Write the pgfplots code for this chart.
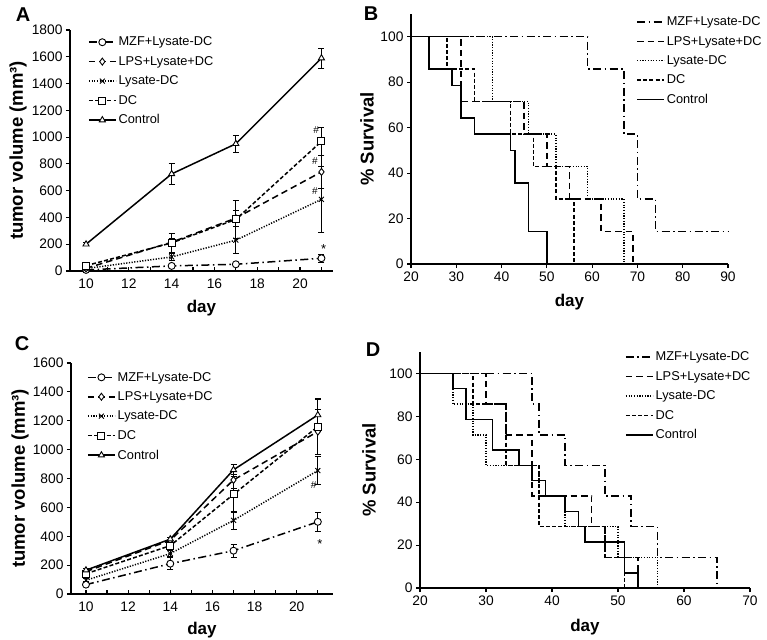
\documentclass[border=0pt]{standalone}
\usepackage{fontspec}
\setmainfont{Liberation Sans}
\usepackage{pgfplots}
\pgfplotsset{compat=1.18}
\tikzset{
  mzf/.style={line width=1.5bp, dash pattern=on 8bp off 3.5bp on 1.5bp off 3.5bp},
  lps/.style={line width=1.5bp, dash pattern=on 6.5bp off 4bp},
  lys/.style={line width=1.5bp, dash pattern=on 1.2bp off 1.5bp},
  dcs/.style={line width=1.5bp, dash pattern=on 4bp off 2.2bp},
  ctl/.style={line width=1.5bp, solid},
}
\pgfplotsset{
  myaxis/.style={
    scale only axis, anchor=south west, clip=false,
    axis x line*=bottom, axis y line*=left,
    axis line style={line width=1.6bp, -},
    tick align=outside,
    major tick length=4bp, minor tick length=4bp,
    tick style={black, line width=1.1bp},
    tick label style={font=\fontsize{13.8bp}{15bp}\selectfont},
    /pgf/number format/assume math mode=true,
    /pgf/number format/1000 sep={},
    every axis x label/.style={at={(axis description cs:0.5,0)}, anchor=center, font=\bfseries\fontsize{17bp}{19bp}\selectfont},
    every axis y label/.style={at={(axis description cs:0,0.5)}, rotate=90, anchor=center, font=\bfseries\fontsize{18.5bp}{20bp}\selectfont},
    legend cell align=left,
    legend style={draw=none, fill=none, inner sep=0pt, anchor=north west,
      font=\fontsize{12.8bp}{14bp}\selectfont, row sep=5bp,
      /tikz/every even column/.append style={column sep=9bp}},
    legend image code/.code={\draw[mark repeat=2,mark phase=2,##1] plot coordinates {(0bp,0bp) (13.5bp,0bp) (27bp,0bp)};},
    every axis plot/.append style={mark options={solid, fill=white, line width=0.9bp}, mark size=3.5bp},
  },
  eb/.style={error bars/.cd, y dir=both, y explicit,
    error bar style={solid, line width=0.9bp},
    error mark options={rotate=90, mark size=3bp, line width=0.9bp, solid}},
}
\begin{document}
\begin{tikzpicture}
\useasboundingbox (0,0) rectangle (767bp,640bp);

% ---------------- Panel A ----------------
\begin{axis}[myaxis, at={(70bp,369bp)}, width=263bp, height=241bp,
  xmin=9.25, xmax=21.54, ymin=0, ymax=1800,
  xtick={10,12,...,20}, minor xtick={11,13,...,21}, ytick={0,200,...,1800},
  xtick style={yshift=4bp},
  xlabel={day}, ylabel={tumor volume (mm³)},
  x label style={yshift=-37bp}, y label style={yshift=52bp},
  legend style={at={(0.068,0.98)}}]
\addplot[mzf, mark=*, eb] coordinates {(10,8) +- (0,5) (14,38) +- (0,12) (17,50) +- (0,10) (21,95) +- (0,28)};
\addlegendentry{MZF+Lysate-DC}
\addplot[lps, mark=diamond*, eb] coordinates {(10,20) +- (0,6) (14,215) +- (0,30) (17,395) +- (0,60) (21,740) +- (0,120)};
\addlegendentry{LPS+Lysate+DC}
\addplot[lys, mark=x, eb] coordinates {(10,18) +- (0,5) (14,105) +- (0,25) (17,230) +- (0,100) (21,535) +- (0,245)};
\addlegendentry{Lysate-DC}
\addplot[dcs, mark=square*, eb] coordinates {(10,40) +- (0,10) (14,210) +- (0,70) (17,385) +- (0,140) (21,968) +- (0,105)};
\addlegendentry{DC}
\addplot[ctl, mark=triangle*, eb] coordinates {(10,200) +- (0,10) (14,725) +- (0,78) (17,950) +- (0,62) (21,1590) +- (0,75)};
\addlegendentry{Control}
\node[font=\fontsize{10bp}{11bp}\selectfont] at (axis cs:20.75,1050) {\#};
\node[font=\fontsize{10bp}{11bp}\selectfont] at (axis cs:20.7,820) {\#};
\node[font=\fontsize{10bp}{11bp}\selectfont] at (axis cs:20.7,600) {\#};
\node[font=\fontsize{13bp}{14bp}\selectfont] at (axis cs:21.1,165) {*};
\end{axis}

% ---------------- Panel B ----------------
\begin{axis}[myaxis, at={(411bp,376bp)}, width=317bp, height=250bp,
  xmin=20, xmax=90, ymin=0, ymax=110,
  xtick={20,30,...,90}, ytick={0,20,...,100},
  xlabel={day}, ylabel={\% Survival},
  x label style={yshift=-38bp}, y label style={yshift=44bp},
  legend style={at={(0.71,0.998)}}]
\addplot[mzf, const plot] coordinates {(20,100) (59,85.7) (67,57.1) (70,28.6) (74,14.3) (90,14.3)};
\addlegendentry{MZF+Lysate-DC}
\addplot[lps, const plot] coordinates {(20,100) (31,71.4) (45,57.1) (50,42.9) (55,28.6) (62,14.3) (69,0)};
\addlegendentry{LPS+Lysate+DC}
\addplot[lys, const plot] coordinates {(20,100) (38,71.4) (46,57.1) (52,42.9) (59,28.6) (67,0)};
\addlegendentry{Lysate-DC}
\addplot[dcs, const plot] coordinates {(20,100) (28,85.7) (34,71.4) (42,57.1) (47,42.9) (52,28.6) (56,0)};
\addlegendentry{DC}
\addplot[ctl, const plot] coordinates {(20,100) (24,85.7) (29,78.6) (31,64.3) (34,57.1) (42,50) (43,35.7) (46,14.3) (50,0)};
\addlegendentry{Control}
\end{axis}

% ---------------- Panel C ----------------
\begin{axis}[myaxis, at={(71bp,46bp)}, width=262bp, height=231bp,
  xmin=9.29, xmax=21.72, ymin=0, ymax=1600,
  xtick={10,12,...,20}, minor xtick={11,13,...,21}, ytick={0,200,...,1600},
  xtick style={yshift=4bp},
  xlabel={day}, ylabel={tumor volume (mm³)},
  x label style={yshift=-36bp}, y label style={yshift=51bp},
  legend style={at={(0.061,0.97)}}]
\addplot[mzf, mark=*, eb] coordinates {(10,65) +- (0,10) (14,210) +- (0,40) (17,300) +- (0,45) (21,500) +- (0,65)};
\addlegendentry{MZF+Lysate-DC}
\addplot[lps, mark=diamond*, eb] coordinates {(10,155) +- (0,10) (14,372) +- (0,20) (17,790) +- (0,60) (21,1125) +- (0,155)};
\addlegendentry{LPS+Lysate+DC}
\addplot[lys, mark=x, eb] coordinates {(10,95) +- (0,10) (14,280) +- (0,20) (17,510) +- (0,65) (21,855) +- (0,95)};
\addlegendentry{Lysate-DC}
\addplot[dcs, mark=square*, eb] coordinates {(10,140) +- (0,10) (14,335) +- (0,20) (17,690) +- (0,125) (21,1160) +- (0,190)};
\addlegendentry{DC}
\addplot[ctl, mark=triangle*, eb] coordinates {(10,165) +- (0,10) (14,380) +- (0,15) (17,860) +- (0,35) (21,1240) +- (0,115)};
\addlegendentry{Control}
\node[font=\fontsize{10bp}{11bp}\selectfont] at (axis cs:20.8,754) {\#};
\node[font=\fontsize{13bp}{14bp}\selectfont] at (axis cs:21.1,345) {*};
\end{axis}

% ---------------- Panel D ----------------
\begin{axis}[myaxis, at={(420bp,52bp)}, width=330bp, height=236bp,
  xmin=20, xmax=70, ymin=0, ymax=110,
  xtick={20,30,...,70}, ytick={0,20,...,100},
  xlabel={day}, ylabel={\% Survival},
  x label style={yshift=-39bp}, y label style={yshift=51bp},
  legend style={at={(0.621,1.01)}}]
\addplot[mzf, const plot] coordinates {(20,100) (37,85.7) (38,71.4) (42,57.1) (48,42.9) (52,28.6) (56,14.3) (65,0)};
\addlegendentry{MZF+Lysate-DC}
\addplot[lps, const plot] coordinates {(20,100) (30,85.7) (33,71.4) (37,42.9) (46,28.6) (48,14.3) (53,0)};
\addlegendentry{LPS+Lysate+DC}
\addplot[lys, const plot] coordinates {(20,100) (25,85.7) (28,71.4) (30,57.1) (38,42.9) (42,28.6) (50,14.3) (56,0)};
\addlegendentry{Lysate-DC}
\addplot[dcs, const plot] coordinates {(20,100) (28,85.7) (33,57.1) (38,28.6) (48,14.3) (51,0)};
\addlegendentry{DC}
\addplot[ctl, const plot] coordinates {(20,100) (25,92.9) (27,78.6) (31,64.3) (35,57.1) (37,50) (39,42.9) (42,35.7) (44,28.6) (45,21.4) (51,7.1) (53,0)};
\addlegendentry{Control}
\end{axis}

% panel letters
\node[font=\bfseries\fontsize{20bp}{22bp}\selectfont] at (23bp,625bp) {A};
\node[font=\bfseries\fontsize{20bp}{22bp}\selectfont] at (371bp,626bp) {B};
\node[font=\bfseries\fontsize{20bp}{22bp}\selectfont] at (22bp,296bp) {C};
\node[font=\bfseries\fontsize{20bp}{22bp}\selectfont] at (373bp,290bp) {D};
\end{tikzpicture}
\end{document}
